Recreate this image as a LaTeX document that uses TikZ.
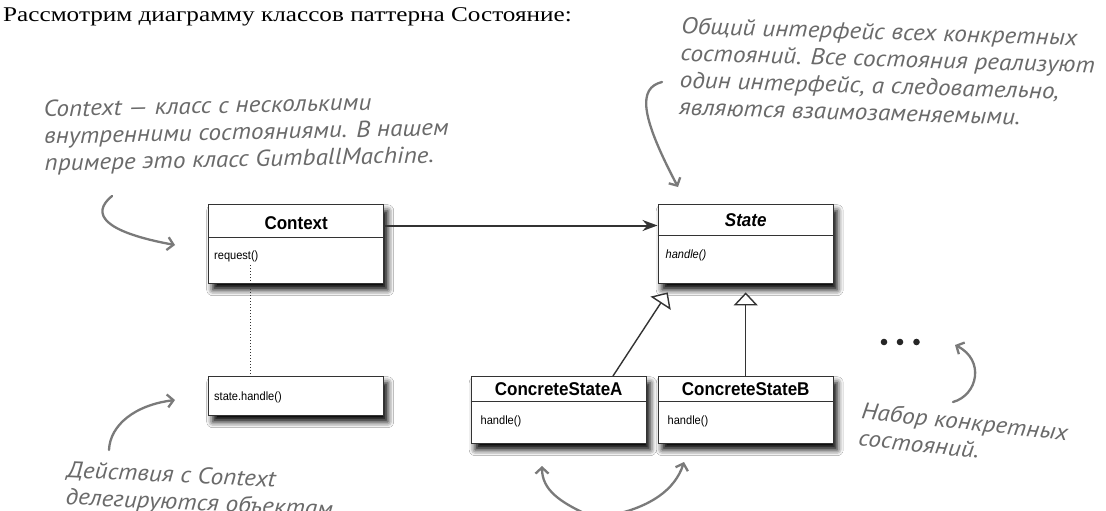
\documentclass[tikz,border=0pt]{standalone}
\usepackage{fontspec}
\setmainfont{Liberation Serif}
\newfontfamily\titlefont[FakeStretch=1.2]{Liberation Serif}
\newfontfamily\boxfont[FakeStretch=0.92]{Liberation Sans}
\newfontfamily\handfont[FakeStretch=1.1]{PT Sans}
\usetikzlibrary{arrows.meta,calc,shadows.blur}
\definecolor{boxline}{HTML}{333333}
\definecolor{notetext}{HTML}{6A6A6A}
\definecolor{notearrow}{HTML}{7A7A7A}
\tikzset{
  umlbox/.style={draw=boxline, line width=1.4pt, fill=white, anchor=north west,
    minimum width=175pt, inner sep=0pt,
    blur shadow={shadow xshift=4pt, shadow yshift=-6pt, shadow blur radius=6pt, shadow opacity=100}},
  hdr/.style={font=\boxfont\bfseries\fontsize{18.5}{20}\selectfont, inner sep=0pt},
  member/.style={font=\boxfont\fontsize{12}{14}\selectfont, anchor=west, inner sep=0pt},
  sepline/.style={draw=boxline, line width=1pt},
  note/.style={font=\handfont\itshape\fontsize{23}{27}\selectfont, text=notetext, align=left, inner sep=0pt},
  notearr/.style={draw=notearrow, line width=2.3pt, line cap=round,
    -{Straight Barb[length=6pt,width=13pt,line width=2.3pt]}},
}
\begin{document}
\begin{tikzpicture}[x=1pt,y=-1pt]
\fill[white] (0,0) rectangle (1106,511);
\useasboundingbox (0,0) rectangle (1106,511);

% title
\node[anchor=west, inner sep=0pt, font=\titlefont\fontsize{21}{24}\selectfont] (title) at (3,17)
  {Рассмотрим диаграмму классов паттерна Состояние:};

% boxes
\node[umlbox, minimum height=79pt] (ctx) at (208,204) {};
\node[umlbox, minimum height=39pt] (sth) at (208,376) {};
\node[umlbox, minimum height=79pt] (st) at (657.5,204) {};
\node[umlbox, minimum height=67pt] (csa) at (470.5,376) {};
\node[umlbox, minimum height=67pt] (csb) at (657.5,376) {};

% Context
\node[hdr] (ctxT) at ($(ctx.north)+(0,19)$) {Context};
\draw[sepline] ($(ctx.north west)+(0,33)$) -- ($(ctx.north east)+(0,33)$);
\node[member] (req) at ($(ctx.north west)+(6,52.5)$) {request()};
\node[member] (sthT) at ($(sth.west)+(6,1)$) {state.handle()};

% State
\node[hdr] (stT) at ($(st.north)+(0,16)$) {\itshape State};
\draw[sepline] ($(st.north west)+(0,31)$) -- ($(st.north east)+(0,31)$);
\node[member] (stM) at ($(st.north west)+(8,51.5)$) {\itshape handle()};

% ConcreteStateA / B
\node[hdr] (csaT) at ($(csa.north)+(0,13.3)$) {ConcreteStateA};
\draw[sepline] ($(csa.north west)+(0,25)$) -- ($(csa.north east)+(0,25)$);
\node[member] (csaM) at ($(csa.north west)+(10,45.5)$) {handle()};
\node[hdr] (csbT) at ($(csb.north)+(0,13.3)$) {ConcreteStateB};
\draw[sepline] ($(csb.north west)+(0,25)$) -- ($(csb.north east)+(0,25)$);
\node[member] (csbM) at ($(csb.north west)+(10,45.5)$) {handle()};

% connectors
\draw[draw=boxline, line width=2pt, -{Stealth[length=15pt,width=11pt]}]
  ($(ctx.north east)+(0,21.5)$) -- ($(st.north west)+(0,21.5)$);
\coordinate (tipA) at ($(st.south)+(-78,8)$);
\coordinate (tipB) at ($(st.south)+(0,8)$);
\draw[draw=boxline, line width=1.4pt, -{Triangle[fill=white,length=13pt,width=24pt]}]
  ($(csa.north west)+(142.5,0)$) -- (tipA);
\draw[draw=boxline, line width=1.4pt, -{Triangle[fill=white,length=13pt,width=24pt]}]
  (csb.north) -- (tipB);
\draw[draw=boxline, line width=1pt, dotted]
  ($(ctx.north west)+(42,61)$) -- ($(sth.north west)+(42,0)$);

% dots
\fill[black!85] (884,342) circle (3.3);
\fill[black!85] (900,342) circle (3.3);
\fill[black!85] (916.5,342) circle (3.3);

% notes
\node[note, rotate=1.2, anchor=west] (n1) at (44,138)
  {Context — класс с несколькими\\внутренними состояниями. В нашем\\примере это класс GumballMachine.};
\node[note, rotate=-1.7, anchor=west] (n2) at (680,66)
  {Общий интерфейс всех конкретных\\состояний. Все состояния реализуют\\один интерфейс, а следовательно,\\являются взаимозаменяемыми.};
\node[note, rotate=-2.7, anchor=west] (n3) at (66,485)
  {Действия с Context\\делегируются объектам};
\node[note, rotate=-6, anchor=west] (n4) at (860,424)
  {Набор конкретных\\состояний.};

% note arrows
\coordinate (a1s) at (112,196);  \coordinate (a1e) at (175,245);
\coordinate (a2s) at (662,82);   \coordinate (a2e) at (678,187);
\coordinate (a3s) at (109,450);  \coordinate (a3e) at (175,400);
\coordinate (a4s) at (953,402);  \coordinate (a4e) at (955,345);
\coordinate (a5s) at (588,515);  \coordinate (a5e) at (542,466);
\coordinate (a6s) at (612,515);  \coordinate (a6e) at (684,462);
\draw[notearr] (a1s) .. controls (90,214) and (104,232) .. (a1e);
\draw[notearr] (a2s) .. controls (638,88) and (640,115) .. (a2e);
\draw[notearr] (a3s) .. controls (110,425) and (135,405) .. (a3e);
\draw[notearr] (a4s) .. controls (978,395) and (985,360) .. (a4e);
\draw[notearr] (a5s) .. controls (560,502) and (542,490) .. (a5e);
\draw[notearr] (a6s) .. controls (650,507) and (675,490) .. (a6e);
\end{tikzpicture}
\end{document}
